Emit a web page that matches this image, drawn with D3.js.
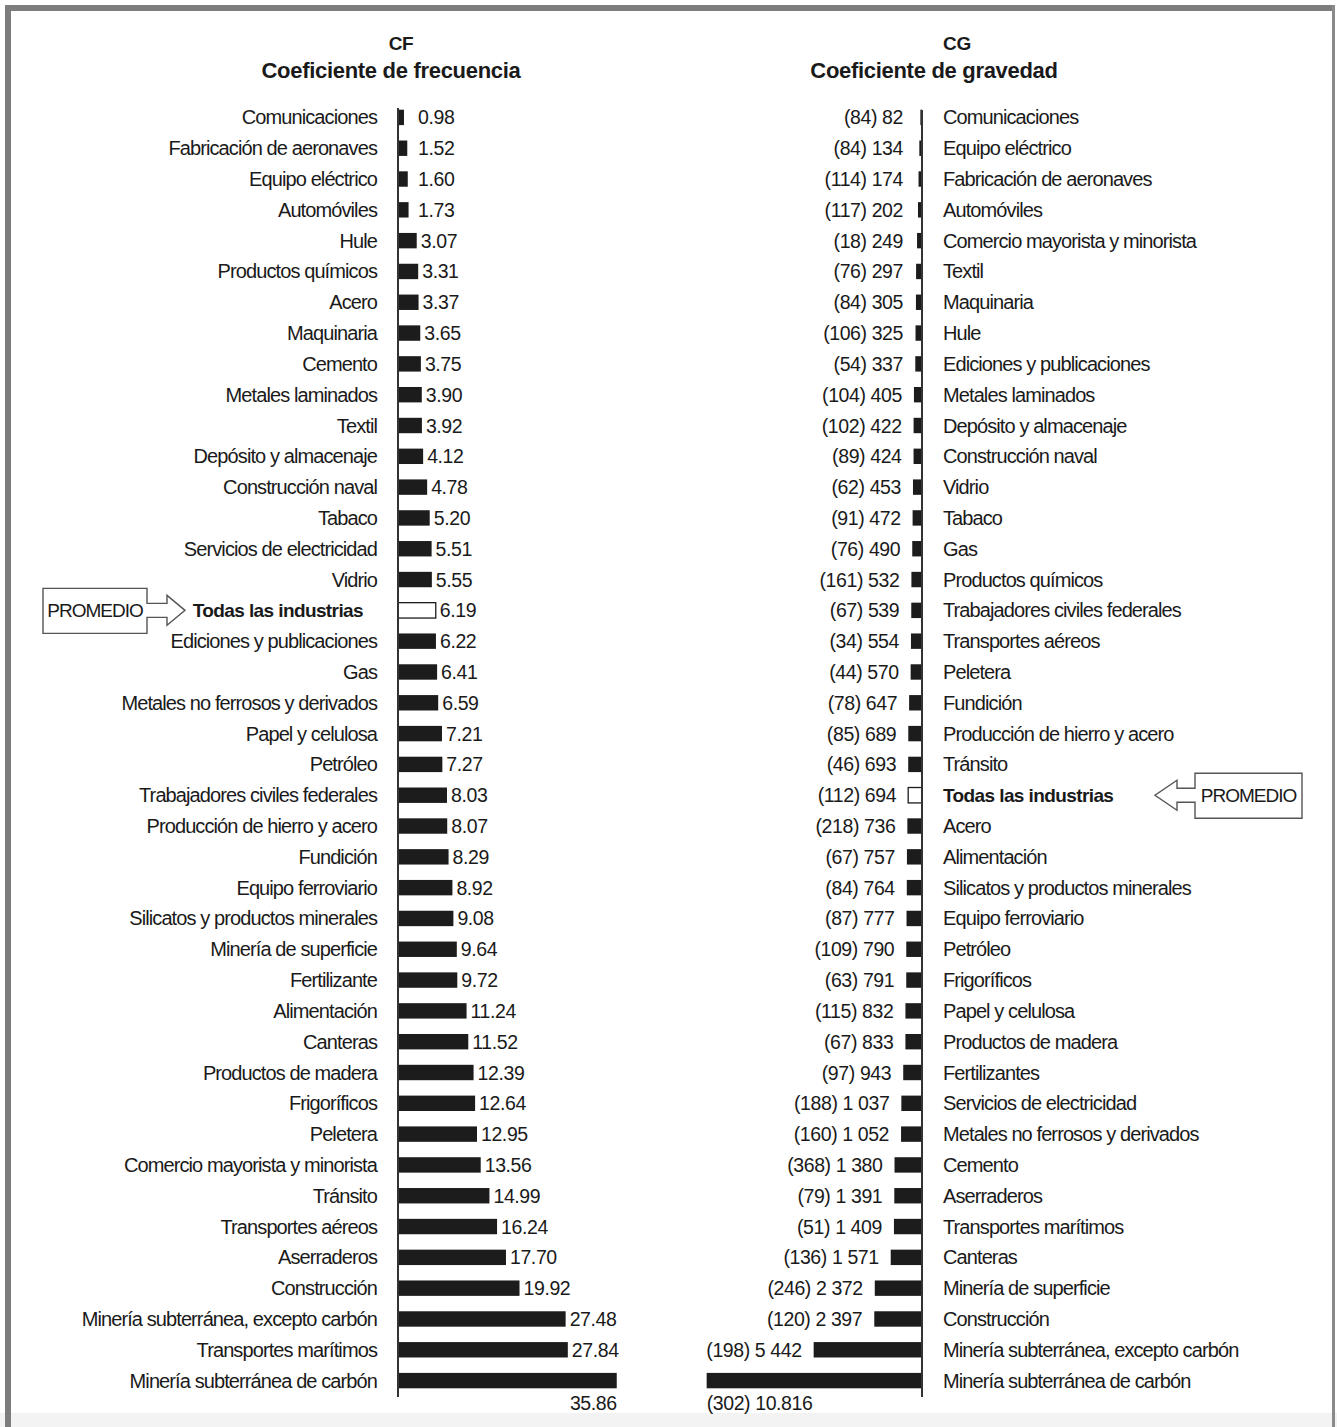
<!DOCTYPE html>
<meta charset="utf-8">
<title>CF / CG</title>
<style>
body {
  margin: 0;
  background: #fff;
}
text {
  font-family: "Liberation Sans", Arial, sans-serif;
  fill: #1a1a1a;
}
.cat {
  font-size: 20px;
  letter-spacing: -0.9px;
}
.val {
  font-size: 19.5px;
  letter-spacing: -0.4px;
}
.ttl {
  font-size: 22px;
  font-weight: bold;
  letter-spacing: -0.3px;
}
</style>
<body>
<script src="https://cdn.jsdelivr.net/npm/d3@7/dist/d3.min.js"></script>
<script>

var w = 1337,
    h = 1427;

// coeficiente de frecuencia
var cfCats = ["Comunicaciones", "Fabricación de aeronaves", "Equipo eléctrico", "Automóviles",
  "Hule", "Productos químicos", "Acero", "Maquinaria", "Cemento", "Metales laminados",
  "Textil", "Depósito y almacenaje", "Construcción naval", "Tabaco", "Servicios de electricidad",
  "Vidrio", "Todas las industrias", "Ediciones y publicaciones", "Gas",
  "Metales no ferrosos y derivados", "Papel y celulosa", "Petróleo",
  "Trabajadores civiles federales", "Producción de hierro y acero", "Fundición",
  "Equipo ferroviario", "Silicatos y productos minerales", "Minería de superficie",
  "Fertilizante", "Alimentación", "Canteras", "Productos de madera", "Frigoríficos",
  "Peletera", "Comercio mayorista y minorista", "Tránsito", "Transportes aéreos",
  "Aserraderos", "Construcción", "Minería subterránea, excepto carbón",
  "Transportes marítimos", "Minería subterránea de carbón"];
var cfVals = [0.98, 1.52, 1.60, 1.73, 3.07, 3.31, 3.37, 3.65, 3.75, 3.90, 3.92, 4.12, 4.78,
  5.20, 5.51, 5.55, 6.19, 6.22, 6.41, 6.59, 7.21, 7.27, 8.03, 8.07, 8.29, 8.92, 9.08, 9.64,
  9.72, 11.24, 11.52, 12.39, 12.64, 12.95, 13.56, 14.99, 16.24, 17.70, 19.92, 27.48, 27.84, 35.86];

// coeficiente de gravedad
var cgCats = ["Comunicaciones", "Equipo eléctrico", "Fabricación de aeronaves", "Automóviles",
  "Comercio mayorista y minorista", "Textil", "Maquinaria", "Hule", "Ediciones y publicaciones",
  "Metales laminados", "Depósito y almacenaje", "Construcción naval", "Vidrio", "Tabaco", "Gas",
  "Productos químicos", "Trabajadores civiles federales", "Transportes aéreos", "Peletera",
  "Fundición", "Producción de hierro y acero", "Tránsito", "Todas las industrias", "Acero",
  "Alimentación", "Silicatos y productos minerales", "Equipo ferroviario", "Petróleo",
  "Frigoríficos", "Papel y celulosa", "Productos de madera", "Fertilizantes",
  "Servicios de electricidad", "Metales no ferrosos y derivados", "Cemento", "Aserraderos",
  "Transportes marítimos", "Canteras", "Minería de superficie", "Construcción",
  "Minería subterránea, excepto carbón", "Minería subterránea de carbón"];
var cgVals = [82, 134, 174, 202, 249, 297, 305, 325, 337, 405, 422, 424, 453, 472, 490, 532,
  539, 554, 570, 647, 689, 693, 694, 736, 757, 764, 777, 790, 791, 832, 833, 943, 1037, 1052,
  1380, 1391, 1409, 1571, 2372, 2397, 5442, 10816];
var cgParen = [84, 84, 114, 117, 18, 76, 84, 106, 54, 104, 102, 89, 62, 91, 76, 161, 67, 34,
  44, 78, 85, 46, 112, 218, 67, 84, 87, 109, 63, 115, 67, 97, 188, 160, 368, 79, 51, 136,
  246, 120, 198, 302];

var avgName = "Todas las industrias";

var svg = d3.select("body").append("svg")
    .attr("width", w)
    .attr("height", h);

// marco
svg.append("rect").attr("x", 0).attr("y", 1413).attr("width", w).attr("height", 14).attr("fill", "#f3f3f3");
svg.append("rect").attr("x", 5).attr("y", 5).attr("width", 1330).attr("height", 6).attr("fill", "#7d7d7d");
svg.append("rect").attr("x", 5).attr("y", 5).attr("width", 6).attr("height", 1422).attr("fill", "#7d7d7d");
svg.append("rect").attr("x", 1332).attr("y", 5).attr("width", 3).attr("height", 1422).attr("fill", "#8a8a8a");

var yL = d3.scaleBand().domain(cfCats).range([102, 1396]).paddingInner(0.5).paddingOuter(0.25);
var yR = d3.scaleBand().domain(cgCats).range([102, 1396]).paddingInner(0.5).paddingOuter(0.25);
var xL = d3.scaleLinear().domain([0, 36]).range([398, 617.6]);
var xR = d3.scaleLinear().domain([0, 11000]).range([922, 703]);
var bw = yL.bandwidth();

function fmtCG(v) {
  var s = d3.format(",")(v);
  return v >= 10000 ? s.replace(",", ".") : s.replace(",", " ");
}

// titulos
svg.append("text").attr("class", "ttl").attr("x", 401).attr("y", 50).attr("text-anchor", "middle").style("font-size", "19px").text("CF");
svg.append("text").attr("class", "ttl").attr("x", 391).attr("y", 78).attr("text-anchor", "middle").text("Coeficiente de frecuencia");
svg.append("text").attr("class", "ttl").attr("x", 957).attr("y", 50).attr("text-anchor", "middle").style("font-size", "19px").text("CG");
svg.append("text").attr("class", "ttl").attr("x", 934).attr("y", 78).attr("text-anchor", "middle").text("Coeficiente de gravedad");

// ---- lado izquierdo
var left = svg.append("g");
var lrows = left.selectAll("g.row")
    .data(cfCats.map(function(c, i) { return {cat: c, v: cfVals[i], i: i}; }))
  .enter().append("g").attr("class", "row");

lrows.append("rect")
    .attr("x", xL(0))
    .attr("y", function(d) { return yL(d.cat); })
    .attr("width", function(d) { return xL(d.v) - xL(0); })
    .attr("height", bw)
    .attr("fill", function(d) { return d.cat == avgName ? "#fff" : "#1c1c1c"; })
    .attr("stroke", function(d) { return d.cat == avgName ? "#1c1c1c" : "none"; })
    .attr("stroke-width", 1.3);

lrows.append("text")
    .attr("class", "cat")
    .attr("x", function(d) { return d.cat == avgName ? 363 : 377; })
    .attr("y", function(d) { return yL(d.cat) + bw / 2 + 7; })
    .attr("text-anchor", "end")
    .style("font-weight", function(d) { return d.cat == avgName ? "bold" : null; })
    .style("letter-spacing", function(d) { return d.cat == avgName ? "-0.6px" : null; })
    .style("font-size", function(d) { return d.cat == avgName ? "19px" : null; })
    .text(function(d) { return d.cat; });

lrows.append("text")
    .attr("class", "val")
    .attr("x", function(d) { return d.i == cfCats.length - 1 ? xL(d.v) : Math.max(xL(d.v) + 4, 418); })
    .attr("y", function(d) { return d.i == cfCats.length - 1 ? yL(d.cat) + bw + 22 : yL(d.cat) + bw / 2 + 7; })
    .attr("text-anchor", function(d) { return d.i == cfCats.length - 1 ? "end" : "start"; })
    .text(function(d) { return d3.format(".2f")(d.v); });

left.append("line")
    .attr("x1", xL(0)).attr("x2", xL(0))
    .attr("y1", 108).attr("y2", 1397)
    .attr("stroke", "#333").attr("stroke-width", 2);

// ---- lado derecho
var right = svg.append("g");
var rrows = right.selectAll("g.row")
    .data(cgCats.map(function(c, i) { return {cat: c, v: cgVals[i], p: cgParen[i], i: i}; }))
  .enter().append("g").attr("class", "row");

rrows.append("rect")
    .attr("x", function(d) { return xR(d.v); })
    .attr("y", function(d) { return yR(d.cat); })
    .attr("width", function(d) { return xR(0) - xR(d.v); })
    .attr("height", bw)
    .attr("fill", function(d) { return d.cat == avgName ? "#fff" : "#1c1c1c"; })
    .attr("stroke", function(d) { return d.cat == avgName ? "#1c1c1c" : "none"; })
    .attr("stroke-width", 1.3);

rrows.append("text")
    .attr("class", "cat")
    .attr("x", 943)
    .attr("y", function(d) { return yR(d.cat) + bw / 2 + 7; })
    .style("font-weight", function(d) { return d.cat == avgName ? "bold" : null; })
    .style("letter-spacing", function(d) { return d.cat == avgName ? "-0.6px" : null; })
    .style("font-size", function(d) { return d.cat == avgName ? "19px" : null; })
    .text(function(d) { return d.cat; });

rrows.append("text")
    .attr("class", "val")
    .attr("x", function(d) { return d.i == cgCats.length - 1 ? xR(d.v) : Math.min(xR(d.v) - 12, 903); })
    .attr("y", function(d) { return d.i == cgCats.length - 1 ? yR(d.cat) + bw + 22 : yR(d.cat) + bw / 2 + 7; })
    .attr("text-anchor", function(d) { return d.i == cgCats.length - 1 ? "start" : "end"; })
    .text(function(d) { return "(" + d.p + ") " + fmtCG(d.v); });

right.append("line")
    .attr("x1", xR(0)).attr("x2", xR(0))
    .attr("y1", 110).attr("y2", 1397)
    .attr("stroke", "#333").attr("stroke-width", 2);

// ---- flechas PROMEDIO
function callout(tipX, cy, headX, boxNear, boxFar) {
  var p = d3.path();
  p.moveTo(boxFar, cy - 22);
  p.lineTo(boxNear, cy - 22);
  p.lineTo(boxNear, cy - 7);
  p.lineTo(headX, cy - 7);
  p.lineTo(headX, cy - 15);
  p.lineTo(tipX, cy);
  p.lineTo(headX, cy + 15);
  p.lineTo(headX, cy + 7);
  p.lineTo(boxNear, cy + 7);
  p.lineTo(boxNear, cy + 23);
  p.lineTo(boxFar, cy + 23);
  p.closePath();
  svg.append("path").attr("d", p.toString())
      .attr("fill", "#fff").attr("stroke", "#555").attr("stroke-width", 1.4);
  svg.append("text")
      .attr("x", (boxNear + boxFar) / 2).attr("y", cy + 7)
      .attr("text-anchor", "middle")
      .style("font-size", "19px").style("letter-spacing", "-1px")
      .text("PROMEDIO");
}

var cyL = yL(avgName) + bw / 2,
    cyR = yR(avgName) + bw / 2;
callout(185, cyL, 167, 147, 43);
callout(1155, cyR, 1177, 1195, 1302);

</script>
